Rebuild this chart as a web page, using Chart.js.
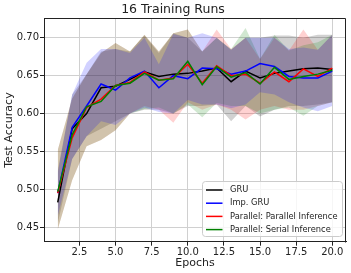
<!DOCTYPE html>
<html><head><meta charset="utf-8">
<script src="https://cdn.jsdelivr.net/npm/chart.js@4"></script>
<style>html,body{margin:0;padding:0;background:#fff}</style>
</head><body>
<canvas id="c" width="351" height="273" style="width:351px;height:273px;display:block"></canvas>
<script>
const epochs = [1,2,3,4,5,6,7,8,9,10,11,12,13,14,15,16,17,18,19,20];
const xTicks = [2.5,5.0,7.5,10.0,12.5,15.0,17.5,20.0];
const yTicks = [0.45,0.50,0.55,0.60,0.65,0.70];
const seriesNames = ['GRU','Imp. GRU','Parallel: Parallel Inference','Parallel: Serial Inference'];

const gruMean  = [0.483,0.580,0.600,0.634,0.636,0.645,0.655,0.649,0.652,0.653,0.656,0.660,0.642,0.656,0.647,0.653,0.656,0.659,0.660,0.658];
const impMean  = [0.495,0.582,0.610,0.639,0.631,0.647,0.656,0.634,0.650,0.646,0.660,0.659,0.652,0.656,0.666,0.662,0.649,0.647,0.647,0.656];
const parMean  = [0.495,0.568,0.608,0.619,0.637,0.641,0.655,0.644,0.647,0.665,0.640,0.663,0.650,0.652,0.640,0.655,0.642,0.659,0.649,0.660];
const serMean  = [0.497,0.572,0.609,0.616,0.637,0.640,0.653,0.644,0.646,0.669,0.638,0.662,0.648,0.654,0.639,0.661,0.645,0.649,0.652,0.657];

const gruUpper = [0.525,0.625,0.652,0.682,0.685,0.682,0.703,0.680,0.706,0.700,0.682,0.700,0.684,0.700,0.700,0.703,0.703,0.700,0.704,0.704];
const gruLower = [0.455,0.540,0.570,0.580,0.590,0.600,0.605,0.605,0.600,0.610,0.610,0.612,0.590,0.610,0.596,0.605,0.610,0.610,0.612,0.615];
const impUpper = [0.522,0.625,0.667,0.685,0.685,0.680,0.700,0.665,0.705,0.700,0.706,0.700,0.684,0.700,0.700,0.700,0.685,0.687,0.684,0.704];
const impLower = [0.465,0.540,0.570,0.590,0.585,0.600,0.608,0.602,0.600,0.618,0.612,0.612,0.607,0.612,0.628,0.625,0.615,0.608,0.603,0.610];
const parUpper = [0.552,0.620,0.652,0.680,0.693,0.682,0.704,0.682,0.706,0.711,0.682,0.711,0.685,0.700,0.672,0.700,0.683,0.711,0.684,0.704];
const parLower = [0.447,0.512,0.557,0.565,0.578,0.600,0.610,0.605,0.588,0.615,0.605,0.612,0.605,0.592,0.605,0.610,0.605,0.605,0.610,0.615];
const serUpper = [0.552,0.620,0.652,0.680,0.693,0.682,0.704,0.682,0.706,0.711,0.682,0.700,0.685,0.713,0.672,0.704,0.683,0.690,0.694,0.704];
const serLower = [0.447,0.512,0.557,0.565,0.578,0.600,0.606,0.608,0.600,0.612,0.595,0.614,0.610,0.610,0.600,0.605,0.608,0.597,0.610,0.615];

const colors = ['#000000','#0000ff','#ff0000','#008000'];
const bandColors = ['rgba(0,0,0,0.18)','rgba(0,0,255,0.18)','rgba(255,0,0,0.18)','rgba(0,128,0,0.18)'];
const means = [gruMean, impMean, parMean, serMean];
const uppers = [gruUpper, impUpper, parUpper, serUpper];
const lowers = [gruLower, impLower, parLower, serLower];
const bandOrder = [13, 10, 12, 11];
const lineOrder = [3, 2, 1, 0];

const pts = arr => epochs.map((e,i) => ({x:e, y:arr[i]}));
const datasets = [];
for (let k = 0; k < 4; k++) {
  datasets.push({label:'_u'+k, data:pts(uppers[k]), borderWidth:0, borderColor:'rgba(0,0,0,0)', pointRadius:0, fill:false, order:bandOrder[k], tension:0});
  datasets.push({label:'_l'+k, data:pts(lowers[k]), borderWidth:0, borderColor:'rgba(0,0,0,0)', pointRadius:0, fill:'-1', backgroundColor:bandColors[k], order:bandOrder[k], tension:0});
}
for (let k = 0; k < 4; k++) {
  datasets.push({label:seriesNames[k], data:pts(means[k]), borderColor:colors[k], borderWidth:1.5, pointRadius:0, fill:false, order:lineOrder[k], tension:0});
}

const FONT = 'DejaVu Sans';
const frame = {
  id:'frame',
  afterDraw(chart){
    const {ctx, chartArea:a} = chart;
    ctx.save();
    ctx.strokeStyle = '#222'; ctx.lineWidth = 1;
    ctx.beginPath();
    ctx.moveTo(Math.round(a.left)+0.5, Math.round(a.top)+0.5);
    ctx.lineTo(Math.round(a.right)-0.5, Math.round(a.top)+0.5);
    ctx.lineTo(Math.round(a.right)-0.5, Math.round(a.bottom)+0.5);
    ctx.stroke();
    // legend
    const x0 = 202.5, y0 = 181.5, w = 140, h = 55, r = 3;
    ctx.fillStyle = 'rgba(255,255,255,0.8)';
    ctx.strokeStyle = '#cccccc';
    ctx.beginPath();
    ctx.moveTo(x0+r, y0); ctx.lineTo(x0+w-r, y0); ctx.arcTo(x0+w, y0, x0+w, y0+r, r);
    ctx.lineTo(x0+w, y0+h-r); ctx.arcTo(x0+w, y0+h, x0+w-r, y0+h, r);
    ctx.lineTo(x0+r, y0+h); ctx.arcTo(x0, y0+h, x0, y0+h-r, r);
    ctx.lineTo(x0, y0+r); ctx.arcTo(x0, y0, x0+r, y0, r);
    ctx.closePath(); ctx.fill(); ctx.stroke();
    ctx.font = '8.3px "' + FONT + '"';
    ctx.textBaseline = 'middle';
    for (let k = 0; k < 4; k++) {
      const yy = 190 + k*13.2;
      ctx.strokeStyle = colors[k]; ctx.lineWidth = 1.5;
      ctx.beginPath(); ctx.moveTo(206, yy); ctx.lineTo(222.5, yy); ctx.stroke();
      ctx.fillStyle = '#222';
      ctx.fillText(seriesNames[k], 230, yy);
    }
    ctx.restore();
  }
};

new Chart(document.getElementById('c'), {
  type:'line',
  data:{datasets},
  options:{
    responsive:false, animation:false, devicePixelRatio:1,
    layout:{padding:{left:0,right:5,top:0,bottom:0}},
    plugins:{
      legend:{display:false}, tooltip:{enabled:false},
      title:{display:true, text:'16 Training Runs', color:'#222', font:{family:FONT, size:12.5, weight:'normal'}, padding:{top:2,bottom:1.4}},
      filler:{propagate:false}
    },
    scales:{
      x:{type:'linear', min:0.05, max:20.95,
        afterBuildTicks: s => { s.ticks = xTicks.map(v => ({value:v})); },
        afterFit: s => { s.height = 31.3; },
        ticks:{callback: v => Number(v).toFixed(1), color:'#222', font:{family:FONT, size:10}, padding:1, maxRotation:0, autoSkip:false},
        grid:{color:'#d0d0d0', lineWidth:1, tickLength:4, tickColor:'#222', drawTicks:true},
        border:{display:true, color:'#222', width:1},
        title:{display:true, text:'Epochs', color:'#222', font:{family:FONT, size:11}, padding:{top:0,bottom:3}}
      },
      y:{type:'linear', min:0.431, max:0.7255,
        afterBuildTicks: s => { s.ticks = yTicks.map(v => ({value:v})); },
        afterFit: s => { s.width = 44; },
        ticks:{callback: v => Number(v).toFixed(2), color:'#222', font:{family:FONT, size:10}, padding:1, autoSkip:false},
        grid:{color:'#d0d0d0', lineWidth:1, tickLength:4, tickColor:'#222', drawTicks:true},
        border:{display:true, color:'#222', width:1},
        title:{display:true, text:'Test Accuracy', color:'#222', font:{family:FONT, size:11}, padding:{top:3,bottom:0}}
      }
    }
  },
  plugins:[frame]
});
</script>
</body></html>
